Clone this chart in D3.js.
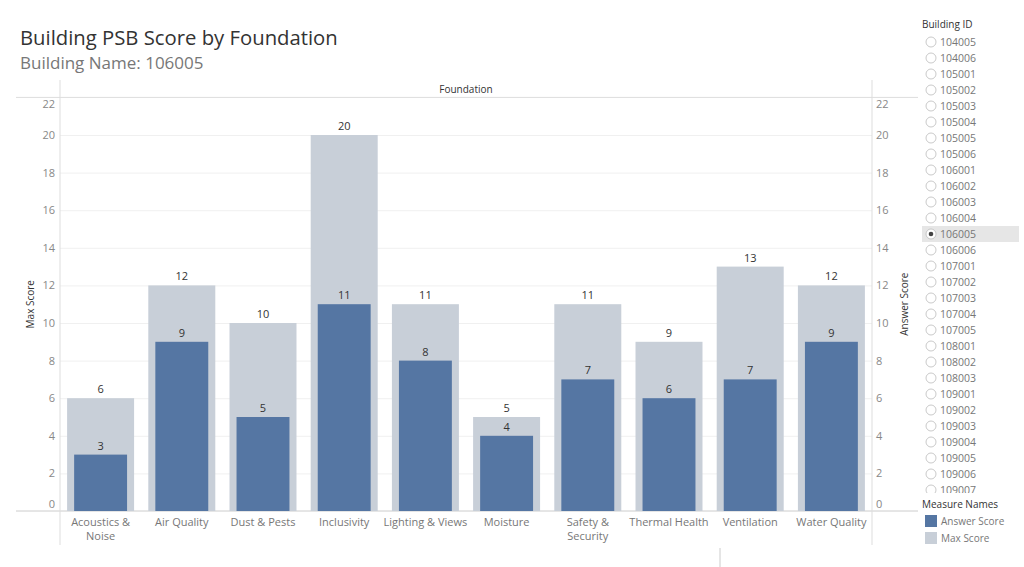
<!DOCTYPE html>
<html>
<head>
<meta charset="utf-8">
<script src="https://cdn.jsdelivr.net/npm/d3@7"></script>
<style>
  body { margin: 0; background: #fff; font-family: "Open Sans", "Noto Sans", sans-serif; }
  svg text { font-family: "Open Sans", "Noto Sans", sans-serif; }
</style>
</head>
<body>
<svg id="chart" width="1024" height="567"></svg>
<script>
const foundations = ["Acoustics & Noise", "Air Quality", "Dust & Pests", "Inclusivity", "Lighting & Views",
  "Moisture", "Safety & Security", "Thermal Health", "Ventilation", "Water Quality"];
const maxScores = [6, 12, 10, 20, 11, 5, 11, 9, 13, 12];
const answerScores = [3, 9, 5, 11, 8, 4, 7, 6, 7, 9];
const yTicks = [0, 2, 4, 6, 8, 10, 12, 14, 16, 18, 20, 22];
const buildingIds = ["104005", "104006", "105001", "105002", "105003", "105004", "105005", "105006",
  "106001", "106002", "106003", "106004", "106005", "106006", "107001", "107002", "107003", "107004",
  "107005", "108001", "108002", "108003", "109001", "109002", "109003", "109004", "109005", "109006", "109007"];
const selectedId = "106005";

const answerColor = "#5576a3";
const maxColor = "#c8cfd8";

const svg = d3.select("#chart");

// titles
svg.append("text").attr("x", 20).attr("y", 45)
  .style("font-size", "20.3px").attr("fill", "#333").text("Building PSB Score by Foundation");
svg.append("text").attr("x", 20).attr("y", 69)
  .style("font-size", "17px").attr("fill", "#777").text("Building Name: " + selectedId);

const plotLeft = 60, plotRight = 872, plotTop = 97.4, plotBottom = 511;

const x = d3.scaleBand().domain(foundations).range([plotLeft, plotRight]).paddingInner(0.175).paddingOuter(0.0875);
const y = d3.scaleLinear().domain([0, 22]).range([plotBottom, plotTop]);

// gridlines
svg.append("g")
  .attr("transform", `translate(${plotLeft},0)`)
  .call(d3.axisLeft(y).tickValues(yTicks.slice(1, -1)).tickSize(-(plotRight - plotLeft)).tickFormat(""))
  .call(g => g.select(".domain").remove())
  .selectAll("line").attr("stroke", "#f0f0f0");

// frame lines
svg.append("line").attr("x1", 16).attr("x2", 918).attr("y1", plotTop).attr("y2", plotTop).attr("stroke", "#ddd");
svg.append("line").attr("x1", 16).attr("x2", 918).attr("y1", plotBottom).attr("y2", plotBottom).attr("stroke", "#ccc");
svg.append("line").attr("x1", plotLeft).attr("x2", plotLeft).attr("y1", 80).attr("y2", 545).attr("stroke", "#ddd");
svg.append("line").attr("x1", plotRight).attr("x2", plotRight).attr("y1", 80).attr("y2", 545).attr("stroke", "#ddd");
svg.append("line").attr("x1", 720).attr("x2", 720).attr("y1", 548).attr("y2", 567).attr("stroke", "#ccc");

svg.append("text").attr("x", (plotLeft + plotRight) / 2).attr("y", 93).attr("text-anchor", "middle")
  .style("font-size", "10px").attr("fill", "#333").text("Foundation");

// y tick labels both sides
function tickY(v) {
  if (v === 22) return y(v) + 11;
  if (v === 0) return y(v) - 3;
  return y(v) + 4;
}
svg.append("g").selectAll("text").data(yTicks).join("text")
  .attr("x", 55).attr("y", tickY).attr("text-anchor", "end")
  .style("font-size", "11px").attr("fill", "#888").text(d => d);
svg.append("g").selectAll("text").data(yTicks).join("text")
  .attr("x", 876).attr("y", tickY).attr("text-anchor", "start")
  .style("font-size", "11px").attr("fill", "#888").text(d => d);

svg.append("text").attr("transform", `translate(34,${(plotTop + plotBottom) / 2}) rotate(-90)`)
  .attr("text-anchor", "middle").style("font-size", "10px").attr("fill", "#333").text("Max Score");
svg.append("text").attr("transform", `translate(908,${(plotTop + plotBottom) / 2}) rotate(-90)`)
  .attr("text-anchor", "middle").style("font-size", "10px").attr("fill", "#333").text("Answer Score");

const rows = foundations.map((f, i) => ({ f, max: maxScores[i], ans: answerScores[i] }));
const innerW = x.bandwidth() * 0.79;

// max bars
svg.append("g").selectAll("rect").data(rows).join("rect")
  .attr("x", d => x(d.f)).attr("width", x.bandwidth())
  .attr("y", d => y(d.max)).attr("height", d => plotBottom - y(d.max)).attr("fill", maxColor);
svg.append("g").selectAll("text").data(rows).join("text")
  .attr("x", d => x(d.f) + x.bandwidth() / 2).attr("y", d => y(d.max) - 5)
  .attr("text-anchor", "middle").style("font-size", "11px").attr("fill", "#333").text(d => d.max);

// answer bars
svg.append("g").selectAll("rect").data(rows).join("rect")
  .attr("x", d => x(d.f) + (x.bandwidth() - innerW) / 2).attr("width", innerW)
  .attr("y", d => y(d.ans)).attr("height", d => plotBottom - y(d.ans)).attr("fill", answerColor);
svg.append("g").selectAll("text").data(rows).join("text")
  .attr("x", d => x(d.f) + x.bandwidth() / 2).attr("y", d => y(d.ans) - 5)
  .attr("text-anchor", "middle").style("font-size", "11px").attr("fill", "#333").text(d => d.ans);

// x labels (wrap on "&")
const xl = svg.append("g").selectAll("text").data(foundations).join("text")
  .attr("x", d => x(d) + x.bandwidth() / 2).attr("y", 526)
  .attr("text-anchor", "middle").style("font-size", "11px").attr("fill", "#777");
xl.each(function (d) {
  const t = d3.select(this);
  const parts = (d === "Acoustics & Noise" || d === "Safety & Security") ? d.split("& ").map((p, i) => i === 0 ? p + "&" : p) : [d];
  parts.forEach((p, i) => t.append("tspan").attr("x", x(d) + x.bandwidth() / 2).attr("dy", i ? 14 : 0).text(p));
});

// Building ID filter
svg.append("text").attr("x", 922).attr("y", 28).style("font-size", "10px").attr("fill", "#333").text("Building ID");
const list = svg.append("g");
svg.append("clipPath").attr("id", "listclip").append("rect").attr("x", 915).attr("y", 33).attr("width", 109).attr("height", 460);
list.attr("clip-path", "url(#listclip)");
const rowY = i => 42 + i * 16;
buildingIds.forEach((id, i) => {
  if (id === selectedId) {
    list.append("rect").attr("x", 922).attr("y", rowY(i) - 8).attr("width", 97).attr("height", 16).attr("fill", "#e6e6e6");
  }
  list.append("circle").attr("cx", 931).attr("cy", rowY(i)).attr("r", 5)
    .attr("fill", "#fff").attr("stroke", "#bbb").attr("stroke-width", 0.8);
  if (id === selectedId) {
    list.append("circle").attr("cx", 931).attr("cy", rowY(i)).attr("r", 2.3).attr("fill", "#444");
  }
  list.append("text").attr("x", 940).attr("y", rowY(i) + 4).style("font-size", "10.5px").attr("fill", "#777").text(id);
});

// Measure Names legend
svg.append("text").attr("x", 922).attr("y", 508).style("font-size", "10px").attr("fill", "#333").text("Measure Names");
const legend = [{ name: "Answer Score", color: answerColor }, { name: "Max Score", color: maxColor }];
legend.forEach((l, i) => {
  svg.append("rect").attr("x", 925).attr("y", 515 + i * 17).attr("width", 12).attr("height", 12).attr("fill", l.color);
  svg.append("text").attr("x", 941).attr("y", 525 + i * 17).style("font-size", "10px").attr("fill", "#777").text(l.name);
});
</script>
</body>
</html>
